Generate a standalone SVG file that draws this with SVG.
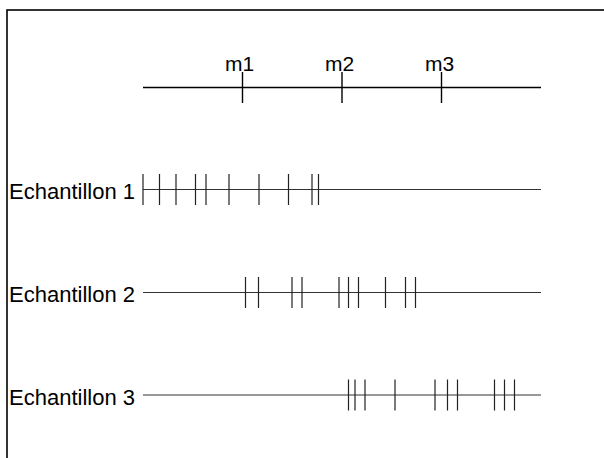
<svg xmlns="http://www.w3.org/2000/svg" width="604" height="458" viewBox="0 0 604 458">
  <style>
    .lbl { font-family: "Liberation Sans", Arial, Helvetica, sans-serif; font-size: 21px; fill: #000; }
    .name { font-size: 22px; }
    .axis { stroke: #000; stroke-width: 1.4; fill: none; }
    .row { stroke: #333; stroke-width: 1.2; fill: none; }
    .tick { stroke: #222; stroke-width: 1.2; fill: none; }
  </style>
  <rect width="604" height="458" fill="#fff"/>
  <!-- frame: only top and left edges fall inside the canvas -->
  <rect x="7" y="10" width="640" height="480" fill="none" stroke="#000" stroke-width="1.6"/>

  <!-- reference scale with the three marks -->
  <g id="scale">
    <line class="axis" x1="143" y1="87.5" x2="541" y2="87.5"/>
    <line class="axis" x1="242.5" y1="72" x2="242.5" y2="103"/>
    <line class="axis" x1="342" y1="72" x2="342" y2="103"/>
    <line class="axis" x1="441.5" y1="72" x2="441.5" y2="103"/>
    <text class="lbl" x="225" y="71">m1</text>
    <text class="lbl" x="325" y="71">m2</text>
    <text class="lbl" x="425" y="71">m3</text>
  </g>

  <g id="echantillon1">
    <text class="lbl name" x="9" y="199">Echantillon 1</text>
    <line class="row" x1="143" y1="189.5" x2="541" y2="189.5"/>
    <path class="tick" d="M143,174V205 M159.5,174V205 M176,174V205 M195.5,174V205 M206,174V205 M229,174V205 M259,174V205 M288.5,174V205 M312,174V205 M318.5,174V205"/>
  </g>

  <g id="echantillon2">
    <text class="lbl name" x="9" y="302">Echantillon 2</text>
    <line class="row" x1="143" y1="292.5" x2="541" y2="292.5"/>
    <path class="tick" d="M245.5,277V308 M258.5,277V308 M292,277V308 M302,277V308 M339,277V308 M348.5,277V308 M358.5,277V308 M385.5,277V308 M405.5,277V308 M415.5,277V308"/>
  </g>

  <g id="echantillon3">
    <text class="lbl name" x="9" y="405">Echantillon 3</text>
    <line class="row" x1="143" y1="395" x2="541" y2="395"/>
    <path class="tick" d="M348.5,379.5V410.5 M355,379.5V410.5 M365,379.5V410.5 M395,379.5V410.5 M435,379.5V410.5 M447.5,379.5V410.5 M457.5,379.5V410.5 M494.5,379.5V410.5 M504.5,379.5V410.5 M514.5,379.5V410.5"/>
  </g>
</svg>
